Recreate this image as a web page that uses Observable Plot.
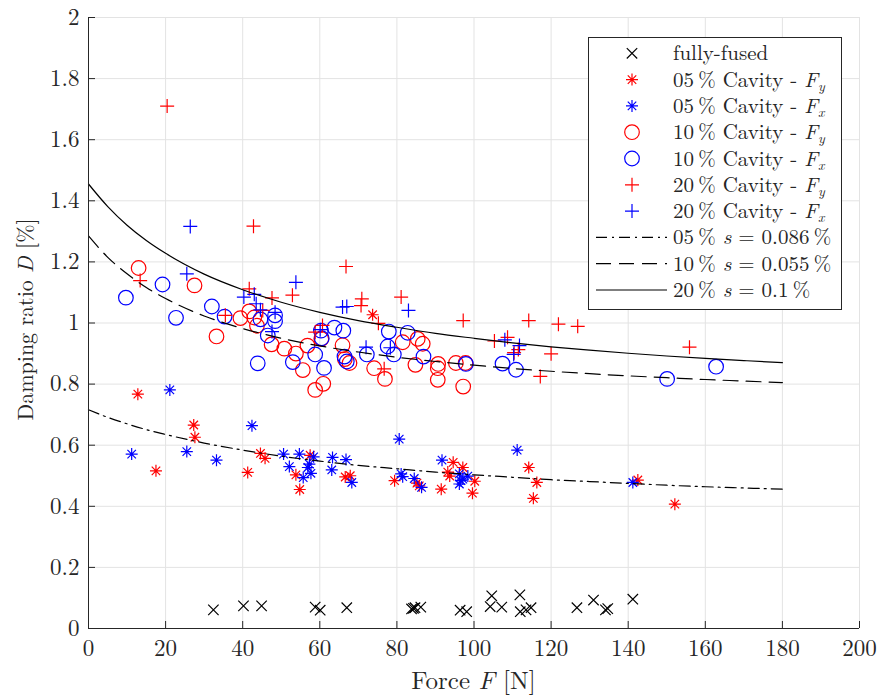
<!DOCTYPE html>
<html><head><meta charset="utf-8">
<script src="https://cdn.jsdelivr.net/npm/d3@7"></script>
<script src="https://cdn.jsdelivr.net/npm/@observablehq/plot@0.6"></script>
<style>
body{margin:0;background:#fff;}
#chart svg, #chart svg text { font-family: "Latin Modern Roman", "Liberation Serif", serif !important; }
</style>
</head><body><div id="chart"></div>
<script>
const xTicks = [0,20,40,60,80,100,120,140,160,180,200];
const yTicks = [0,0.2,0.4,0.6,0.8,1,1.2,1.4,1.6,1.8,2];

const fusedF = [32.4,40.2,44.9,58.8,60.1,67.0,83.8,84.3,84.7,86.2,96.4,98.1,104.2,104.6,107.2,111.9,112.0,113.5,114.8,126.7,131.0,134.1,134.7,141.2];
const fusedD = [0.061,0.074,0.074,0.070,0.060,0.068,0.064,0.066,0.068,0.070,0.060,0.055,0.072,0.107,0.070,0.110,0.055,0.061,0.068,0.068,0.093,0.061,0.065,0.096];

const cav05FyF = [12.8,17.5,27.3,27.6,41.3,44.6,45.8,53.8,54.8,57.5,66.6,67.9,73.7,79.4,85.2,85.8,91.5,93.2,93.7,94.6,97.1,99.6,100.2,114.2,115.4,116.3,142.5,152.1];
const cav05FyD = [0.767,0.516,0.666,0.626,0.511,0.573,0.557,0.503,0.455,0.567,0.496,0.500,1.027,0.484,0.476,0.467,0.456,0.512,0.499,0.544,0.527,0.443,0.482,0.527,0.426,0.478,0.486,0.407];

const cav05FxF = [11.2,21.1,25.5,33.2,42.4,50.6,52.1,54.7,55.7,56.9,57.3,57.7,58.4,63.3,63.1,66.8,68.3,80.6,81.1,81.5,84.5,86.4,91.7,96.2,96.6,97.1,98.4,96.2,111.2,141.2];
const cav05FxD = [0.571,0.781,0.579,0.551,0.664,0.571,0.530,0.571,0.494,0.527,0.538,0.508,0.562,0.560,0.519,0.553,0.478,0.620,0.506,0.497,0.491,0.462,0.551,0.506,0.484,0.489,0.499,0.473,0.584,0.478];

const cav10FyF = [13.0,27.5,33.2,39.4,41.7,43.0,43.7,47.5,50.8,53.8,55.6,56.8,58.8,60.4,60.9,65.9,66.5,67.7,74.1,76.9,81.5,84.8,85.4,86.7,90.7,90.6,90.6,95.3,97.8,97.2];
const cav10FyD = [1.180,1.123,0.956,1.016,1.038,1.018,0.991,0.930,0.916,0.900,0.846,0.926,0.781,0.948,0.801,0.927,0.882,0.869,0.852,0.817,0.937,0.863,0.948,0.932,0.866,0.852,0.814,0.869,0.869,0.792];

const cav10FxF = [9.7,19.2,22.7,32.0,35.3,43.9,44.6,46.5,48.4,48.4,53.0,58.8,60.3,60.5,61.1,63.8,66.1,66.4,67.0,72.2,77.9,77.6,79.2,82.8,86.9,97.9,107.4,110.9,150.1,162.8];
const cav10FxD = [1.083,1.126,1.017,1.054,1.021,0.868,1.012,0.959,1.025,1.006,0.872,0.897,0.975,0.950,0.853,0.985,0.975,0.890,0.874,0.897,0.972,0.923,0.897,0.968,0.890,0.866,0.867,0.847,0.817,0.857];

const cav20FyF = [13.4,20.4,35.5,41.7,42.8,45.2,47.6,52.9,58.8,60.7,66.8,70.9,70.7,75.2,76.7,81.1,97.2,105.3,108.7,110.4,111.5,114.2,117.2,120.0,121.9,126.9,155.9];
const cav20FyD = [1.139,1.710,1.025,1.112,1.317,1.041,1.082,1.091,0.970,0.992,1.185,1.079,1.057,0.999,0.850,1.085,1.008,0.941,0.953,0.903,0.913,1.008,0.825,0.899,0.996,0.989,0.921];

const cav20FxF = [25.5,26.4,40.3,43.0,43.5,44.6,47.6,48.4,53.8,60.1,65.9,67.0,72.0,78.3,83.0,108.0,110.3,111.8];
const cav20FxD = [1.161,1.316,1.085,1.094,1.063,1.043,0.972,1.035,1.133,0.978,1.052,1.054,0.921,0.919,1.041,0.945,0.897,0.926];

// fitted curves
const fitF  = [0,5,10,15,20,30,40,50,60,70,80,90,100,110,120,130,140,150,160,170,180];
const fit05 = [0.716,0.691,0.670,0.651,0.635,0.607,0.584,0.564,0.548,0.534,0.523,0.512,0.503,0.495,0.487,0.481,0.475,0.469,0.464,0.460,0.456];
const fit10 = [1.285,1.215,1.161,1.116,1.080,1.023,0.982,0.950,0.925,0.905,0.888,0.874,0.862,0.851,0.842,0.834,0.827,0.821,0.815,0.810,0.805];
const fit20 = [1.455,1.381,1.320,1.270,1.228,1.160,1.109,1.068,1.035,1.008,0.986,0.966,0.950,0.935,0.922,0.911,0.901,0.892,0.884,0.877,0.870];

const pts = (F, D) => F.map((f, i) => ({F: f, D: D[i]}));

const symTimes = {draw(c, size){const r = Math.sqrt(size/Math.PI); c.moveTo(-r,-r); c.lineTo(r,r); c.moveTo(-r,r); c.lineTo(r,-r);}};
const symPlus = {draw(c, size){const r = Math.sqrt(size/Math.PI); c.moveTo(-r,0); c.lineTo(r,0); c.moveTo(0,-r); c.lineTo(0,r);}};
const symStar = {draw(c, size){const r = Math.sqrt(size/Math.PI), d = r*Math.SQRT1_2;
  c.moveTo(-r,0); c.lineTo(r,0); c.moveTo(0,-r); c.lineTo(0,r);
  c.moveTo(-d,-d); c.lineTo(d,d); c.moveTo(-d,d); c.lineTo(d,-d);}};
const symCircle = {draw(c, size){const r = Math.sqrt(size/Math.PI); c.moveTo(r,0); c.arc(0,0,r,0,2*Math.PI);}};

const RED = "#ff0000", BLUE = "#0000ff", INK = "#262626";
const SW = 1.2;
const FONT = "Latin Modern Roman, Liberation Serif, serif";

const series = [
  {data: pts(fusedF, fusedD), sym: symTimes, r: 5.2, color: "#000"},
  {data: pts(cav05FyF, cav05FyD), sym: symStar, r: 6, color: RED},
  {data: pts(cav05FxF, cav05FxD), sym: symStar, r: 6, color: BLUE},
  {data: pts(cav10FyF, cav10FyD), sym: symCircle, r: 7.3, color: RED},
  {data: pts(cav10FxF, cav10FxD), sym: symCircle, r: 7.3, color: BLUE},
  {data: pts(cav20FyF, cav20FyD), sym: symPlus, r: 7, color: RED},
  {data: pts(cav20FxF, cav20FxD), sym: symPlus, r: 7, color: BLUE}
];
const fits = [
  {data: pts(fitF, fit05), dash: "11,5,2,5"},
  {data: pts(fitF, fit10), dash: "15,8"},
  {data: pts(fitF, fit20), dash: null}
];

const W = 877, H = 697, mL = 88, mR = 18, mT = 17, mB = 69;
const frameW = W - mL - mR, frameH = H - mT - mB;
const fmt = d => String(+d.toFixed(1));

const chart = Plot.plot({
  width: W, height: H,
  marginLeft: mL, marginRight: mR, marginTop: mT, marginBottom: mB,
  x: {domain: [0, 200]},
  y: {domain: [0, 2]},
  style: {fontFamily: FONT, fontSize: "23px", color: INK, background: "#fff", overflow: "visible"},
  marks: [
    Plot.gridX(xTicks, {stroke: "#e3e3e3", strokeOpacity: 1}),
    Plot.gridY(yTicks, {stroke: "#e3e3e3", strokeOpacity: 1}),
    ...series.map(s => Plot.dot(s.data, {x: "F", y: "D", symbol: s.sym, r: s.r, stroke: s.color, fill: "none", strokeWidth: SW})),
    ...fits.map(f => Plot.line(f.data, {x: "F", y: "D", curve: "monotone-x", stroke: "#000", strokeWidth: 1.2, strokeDasharray: f.dash})),
    Plot.ruleX([0], {stroke: INK, strokeWidth: 1}),
    Plot.ruleY([0], {stroke: INK, strokeWidth: 1}),
    Plot.tickX(xTicks, {x: d => d, stroke: INK, insetTop: frameH - 7}),
    Plot.tickY(yTicks, {y: d => d, stroke: INK, insetRight: frameW - 7}),
    Plot.axisX(xTicks, {tickSize: 0, tickPadding: 11, label: null, tickFormat: fmt, fill: INK, fontSize: 23}),
    Plot.axisY(yTicks, {tickSize: 0, tickPadding: 9, label: null, tickFormat: fmt, fill: INK, fontSize: 23})
  ]
});
document.getElementById("chart").appendChild(chart);

const svg = d3.select(chart);
// axis labels
const xl = svg.append("text").attr("x", mL + frameW/2).attr("y", 689).attr("text-anchor", "middle")
  .attr("font-size", 25).attr("fill", INK);
xl.append("tspan").text("Force ");
xl.append("tspan").attr("font-style", "italic").text("F");
xl.append("tspan").text(" [N]");
const yl = svg.append("text").attr("transform", `translate(33,${mT + frameH/2 - 3}) rotate(-90)`).attr("text-anchor", "middle")
  .attr("font-size", 22).attr("fill", INK);
yl.append("tspan").text("Damping ratio ");
yl.append("tspan").attr("font-style", "italic").text("D");
yl.append("tspan").text(" [%]");

// legend
const legendRows = [
  {pre: "fully-fused"},
  {pre: "05\u2009% Cavity - ", it: "F", sub: "y"},
  {pre: "05\u2009% Cavity - ", it: "F", sub: "x"},
  {pre: "10\u2009% Cavity - ", it: "F", sub: "y"},
  {pre: "10\u2009% Cavity - ", it: "F", sub: "x"},
  {pre: "20\u2009% Cavity - ", it: "F", sub: "y"},
  {pre: "20\u2009% Cavity - ", it: "F", sub: "x"},
  {pre: "05\u2009% ", it: "s", post: " = 0.086\u2009%"},
  {pre: "10\u2009% ", it: "s", post: " = 0.055\u2009%"},
  {pre: "20\u2009% ", it: "s", post: " = 0.1\u2009%"}
];
const lg = svg.append("g").attr("transform", "translate(588,37)");
lg.append("rect").attr("x", 0.5).attr("y", 0.5).attr("width", 253).attr("height", 272)
  .attr("fill", "#fff").attr("stroke", INK).attr("stroke-width", 1);
legendRows.forEach((row, i) => {
  const cy = 16.3 + i * 26.3;
  if (i < series.length) {
    const s = series[i];
    lg.append("path").attr("d", d3.symbol(s.sym, Math.PI * s.r * s.r)())
      .attr("transform", `translate(44,${cy})`).attr("fill", "none").attr("stroke", s.color).attr("stroke-width", SW);
  } else {
    const f = fits[i - series.length];
    lg.append("line").attr("x1", 8).attr("x2", 79).attr("y1", cy).attr("y2", cy)
      .attr("stroke", "#000").attr("stroke-width", 1.2).attr("stroke-dasharray", f.dash);
  }
  const t = lg.append("text").attr("x", 85).attr("y", cy + 7).attr("text-anchor", "start")
    .attr("font-size", 21).attr("fill", INK);
  t.append("tspan").text(row.pre);
  if (row.it) t.append("tspan").attr("font-style", "italic").text(row.it);
  if (row.sub) t.append("tspan").attr("font-style", "italic").attr("font-size", 14).attr("dy", 4).text(row.sub);
  if (row.post) t.append("tspan").text(row.post);
});
svg.selectAll("text").attr("font-family", FONT);
</script>
</body></html>
